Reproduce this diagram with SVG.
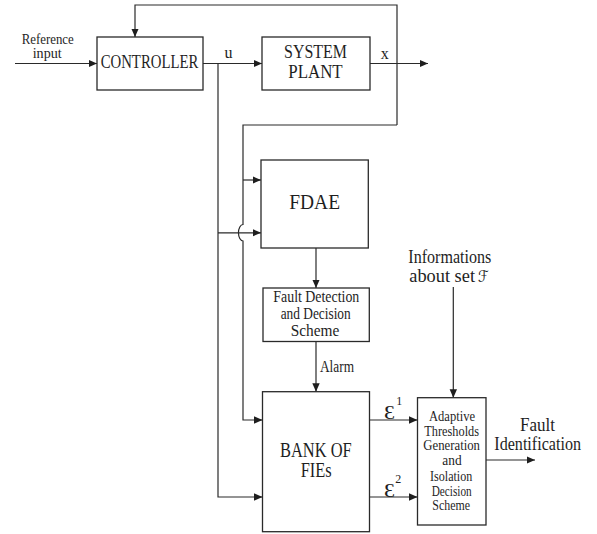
<svg xmlns="http://www.w3.org/2000/svg" width="597" height="534" viewBox="0 0 597 534">
<style>
.box{fill:#fff;stroke:#2a2a2a;stroke-width:1.3}
.ln{fill:none;stroke:#2a2a2a;stroke-width:1.2}
.ar{marker-end:url(#ah)}
.t{fill:#1e1e1e}
</style>
<defs>
<marker id="ah" markerUnits="userSpaceOnUse" markerWidth="9" markerHeight="8" refX="8.5" refY="4" orient="auto">
<path d="M0,0.3 L8.5,4 L0,7.7 z" fill="#1e1e1e"/>
</marker>
</defs>
<rect width="597" height="534" fill="#fff"/>

<g id="connectors">
<path class="ln ar" d="M15,63.5 H97"/>
<path class="ln ar" d="M203,63.5 H262"/>
<path class="ln ar" d="M370,63.5 H428"/>
<path class="ln ar" d="M397,125 V5 H135 V37"/>
<path class="ln ar" d="M397,125 H243 V224.5 A4.5,8.2 0 0 0 243,241 V420 H262.5"/>
<path class="ln ar" d="M243,180 H261"/>
<path class="ln ar" d="M218,63.5 V497 H262.5"/>
<path class="ln ar" d="M218,232.8 H261"/>
<path class="ln ar" d="M316,248 V288"/>
<path class="ln ar" d="M316,341.5 V391.7"/>
<path class="ln ar" d="M369.5,420 H417.5"/>
<path class="ln ar" d="M369.5,497 H417.5"/>
<path class="ln ar" d="M453.3,287 V397.7"/>
<path class="ln ar" d="M486,460 H535"/>
</g>

<g font-family="'Liberation Serif', 'Times New Roman', 'DejaVu Serif', serif" class="t">

<g id="reference-input">
<text x="21.7" y="44" font-size="14" textLength="52" lengthAdjust="spacingAndGlyphs">Reference</text>
<text x="32.7" y="58.3" font-size="14" textLength="29" lengthAdjust="spacingAndGlyphs">input</text>
</g>

<g id="controller">
<rect class="box" x="97" y="37" width="106" height="53"/>
<text x="100.7" y="67.7" font-size="18.5" textLength="97.6" lengthAdjust="spacingAndGlyphs">CONTROLLER</text>
</g>

<g id="label-u"><text x="224.5" y="58.3" font-size="16">u</text></g>

<g id="system-plant">
<rect class="box" x="262" y="37" width="108" height="53"/>
<text x="284" y="58.3" font-size="19" textLength="63" lengthAdjust="spacingAndGlyphs">SYSTEM</text>
<text x="288.3" y="78.3" font-size="19" textLength="54.4" lengthAdjust="spacingAndGlyphs">PLANT</text>
</g>

<g id="label-x"><text x="380.7" y="59" font-size="16">x</text></g>

<g id="fdae">
<rect class="box" x="261" y="160" width="107.3" height="88"/>
<text x="289.3" y="209.3" font-size="21" textLength="50.7" lengthAdjust="spacingAndGlyphs">FDAE</text>
</g>

<g id="fault-detection">
<rect class="box" x="263" y="288" width="106.3" height="53.5"/>
<text x="273.3" y="301.7" font-size="16" textLength="86" lengthAdjust="spacingAndGlyphs">Fault Detection</text>
<text x="280.7" y="319.3" font-size="16" textLength="70" lengthAdjust="spacingAndGlyphs">and Decision</text>
<text x="290.7" y="335.7" font-size="16" textLength="48.6" lengthAdjust="spacingAndGlyphs">Scheme</text>
</g>

<g id="label-alarm"><text x="320" y="371.7" font-size="16" textLength="34" lengthAdjust="spacingAndGlyphs">Alarm</text></g>

<g id="bank">
<rect class="box" x="262.5" y="391.7" width="107" height="140"/>
<text x="280" y="456.7" font-size="20" textLength="71.7" lengthAdjust="spacingAndGlyphs">BANK OF</text>
<text x="300.7" y="476.7" font-size="20" textLength="31" lengthAdjust="spacingAndGlyphs">FIEs</text>
</g>

<g id="label-eps1">
<text x="384" y="419.3" font-size="19" textLength="11" lengthAdjust="spacingAndGlyphs">Ɛ</text>
<text x="396.3" y="405" font-size="12">1</text>
</g>
<g id="label-eps2">
<text x="384" y="497.3" font-size="19" textLength="11" lengthAdjust="spacingAndGlyphs">Ɛ</text>
<text x="395.3" y="483" font-size="12">2</text>
</g>

<g id="label-info">
<text x="408.3" y="262.7" font-size="18" textLength="83" lengthAdjust="spacingAndGlyphs">Informations</text>
<text x="409.3" y="281.7" font-size="18" textLength="65.7" lengthAdjust="spacingAndGlyphs">about set</text>
<text x="478" y="281.7" font-size="16" font-style="italic" textLength="10.5" lengthAdjust="spacingAndGlyphs" font-family="'DejaVu Serif','DejaVu Sans',serif">ℱ</text>
</g>

<g id="adaptive-thresholds">
<rect class="box" x="417.5" y="397.7" width="68.5" height="127.3"/>
<text x="429" y="421" font-size="14" textLength="46" lengthAdjust="spacingAndGlyphs">Adaptive</text>
<text x="424.3" y="435.5" font-size="14" textLength="54.7" lengthAdjust="spacingAndGlyphs">Thresholds</text>
<text x="423.3" y="450" font-size="14" textLength="56.7" lengthAdjust="spacingAndGlyphs">Generation</text>
<text x="442.3" y="465" font-size="14" textLength="19.3" lengthAdjust="spacingAndGlyphs">and</text>
<text x="430" y="481" font-size="14" textLength="42.3" lengthAdjust="spacingAndGlyphs">Isolation</text>
<text x="431.7" y="495.5" font-size="14" textLength="40" lengthAdjust="spacingAndGlyphs">Decision</text>
<text x="432.3" y="510" font-size="14" textLength="37.7" lengthAdjust="spacingAndGlyphs">Scheme</text>
</g>

<g id="label-fault-identification">
<text x="520" y="431" font-size="18.5" textLength="35" lengthAdjust="spacingAndGlyphs">Fault</text>
<text x="494.3" y="450" font-size="18.5" textLength="86.7" lengthAdjust="spacingAndGlyphs">Identification</text>
</g>

</g>
</svg>
